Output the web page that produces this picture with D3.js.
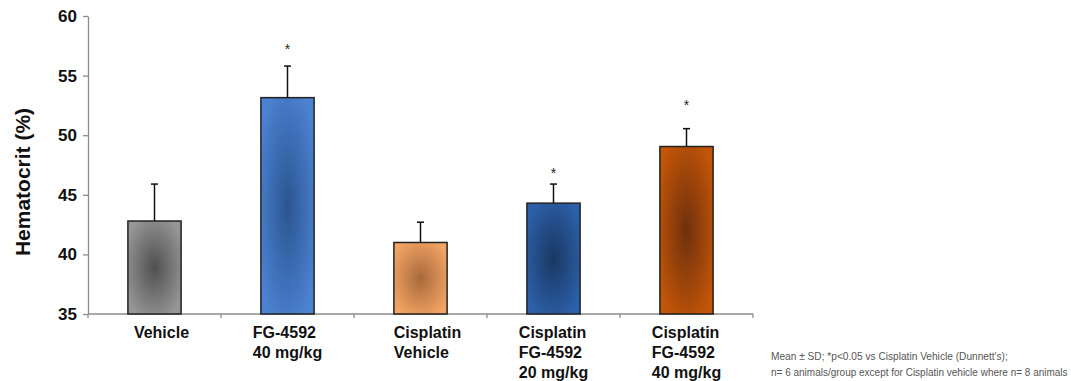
<!DOCTYPE html>
<html lang="en">
  <head>
    <meta charset="utf-8">
    <title>Hematocrit</title>
    <script src="https://cdn.jsdelivr.net/npm/d3@7"></script>
    <style>
      body { margin: 0; background: #fff; }
      svg { display: block; font-family: "Liberation Sans", Arial, sans-serif; }
      .axis path, .axis line { stroke: #8c8c8c; stroke-width: 1.3px; }
      .axis text { font-weight: bold; font-size: 17px; fill: #111; }
      .bar { stroke: #222; stroke-width: 1.5px; }
      .err { stroke: #111; stroke-width: 1.5px; fill: none; }
      .cat { font-weight: bold; font-size: 16px; fill: #111; }
      .note { font-size: 11px; fill: #555; }
    </style>
  </head>
  <body>
    <svg id="chart"></svg>
    <script>
      // data
      var categories = [
        ["Vehicle"],
        ["FG-4592", "40 mg/kg"],
        ["Cisplatin", "Vehicle"],
        ["Cisplatin", "FG-4592", "20 mg/kg"],
        ["Cisplatin", "FG-4592", "40 mg/kg"]
      ];
      var means = [42.8, 53.15, 41.0, 44.3, 49.05];
      var sds   = [3.1, 2.65, 1.7, 1.6, 1.5];
      var stars = [null, 57.5, null, 47.1, 52.8];   // level of the * mark
      var yTicks = [35, 40, 45, 50, 55, 60];

      // edge colour, centre colour of each bar
      var fills = [
        ["#969696", "#505050"],
        ["#4c82d2", "#2a5590"],
        ["#f3a464", "#a86a3c"],
        ["#2c60aa", "#1a3862"],
        ["#c25508", "#6e300c"]
      ];

      var W = 1071, H = 381;
      var margin = {top: 16, left: 88, right: 318, bottom: 67};
      var width = W - margin.left - margin.right,
          height = H - margin.top - margin.bottom;

      var svg = d3.select("#chart").attr("width", W).attr("height", H);

      var defs = svg.append("defs");
      fills.forEach(function(c, i) {
        var g = defs.append("radialGradient")
            .attr("id", "grad" + i)
            .attr("cx", "50%").attr("cy", "50%").attr("r", "60%");
        g.append("stop").attr("offset", "0%").attr("stop-color", c[1]);
        g.append("stop").attr("offset", "100%").attr("stop-color", c[0]);
      });

      var g = svg.append("g")
          .attr("transform", "translate(" + margin.left + "," + margin.top + ")");

      var x = d3.scaleBand()
          .domain(d3.range(categories.length))
          .range([0, width])
          .paddingInner(0.6)
          .paddingOuter(0.3);

      var y = d3.scaleLinear().domain([35, 60]).range([height, 0]);

      // y axis
      g.append("g").attr("class", "axis")
          .call(d3.axisLeft(y).tickValues(yTicks).tickSize(5).tickPadding(6).tickSizeOuter(0));

      // x axis with ticks at band boundaries
      var xa = g.append("g").attr("class", "axis").attr("transform", "translate(0," + height + ")");
      xa.append("line").attr("x1", 0).attr("x2", width).attr("y1", 0).attr("y2", 0);
      xa.selectAll(".tk").data(d3.range(categories.length + 1)).enter().append("line")
          .attr("x1", function(d) { return d * width / categories.length; })
          .attr("x2", function(d) { return d * width / categories.length; })
          .attr("y1", 0).attr("y2", 4);

      // bars
      g.selectAll(".bar").data(means).enter().append("rect")
          .attr("class", "bar")
          .attr("x", function(d, i) { return x(i); })
          .attr("width", x.bandwidth())
          .attr("y", function(d) { return y(d); })
          .attr("height", function(d) { return height - y(d); })
          .attr("fill", function(d, i) { return "url(#grad" + i + ")"; });

      // upper error bars
      var eb = g.selectAll(".eb").data(means).enter().append("g");
      eb.append("line").attr("class", "err")
          .attr("x1", function(d, i) { return x(i) + x.bandwidth() / 2; })
          .attr("x2", function(d, i) { return x(i) + x.bandwidth() / 2; })
          .attr("y1", function(d) { return y(d); })
          .attr("y2", function(d, i) { return y(d + sds[i]); });
      eb.append("line").attr("class", "err")
          .attr("x1", function(d, i) { return x(i) + x.bandwidth() / 2 - 3.5; })
          .attr("x2", function(d, i) { return x(i) + x.bandwidth() / 2 + 3.5; })
          .attr("y1", function(d, i) { return y(d + sds[i]); })
          .attr("y2", function(d, i) { return y(d + sds[i]); });

      // significance stars
      g.selectAll(".star").data(stars).enter()
          .filter(function(d) { return d != null; })
          .append("text")
          .attr("x", function(d, i) { return x(stars.indexOf(d)) + x.bandwidth() / 2; })
          .attr("y", function(d) { return y(d); })
          .attr("text-anchor", "middle")
          .attr("dy", "0.6em")
          .style("font-size", "14px")
          .style("fill", "#222")
          .text("*");

      // category labels: left-aligned block centred on the band
      categories.forEach(function(lines, i) {
        var t = g.append("text").attr("class", "cat");
        lines.forEach(function(s, j) {
          t.append("tspan").attr("x", 0).attr("y", height + 24 + j * 20).text(s);
        });
        var w = t.node().getBBox().width;
        t.attr("transform", "translate(" + (x(i) + x.bandwidth() / 2 - w / 2 + (lines[lines.length - 1] === "Vehicle" ? 7 : 0)) + ",0)");
      });

      // y title
      svg.append("text")
          .attr("transform", "translate(30," + (margin.top + height / 2 + 17) + ") rotate(-90)")
          .attr("text-anchor", "middle")
          .style("font-weight", "bold")
          .style("font-size", "21px")
          .style("fill", "#111")
          .text("Hematocrit (%)");

      // footnote, squeezed horizontally like the narrow font of the original
      var notes = [
        "Mean \u00b1 SD; *p<0.05 vs Cisplatin Vehicle (Dunnett's);",
        "n= 6 animals/group except for Cisplatin vehicle where n= 8 animals"
      ];
      var noteWidths = [237, 297];
      svg.selectAll(".note").data(notes).enter().append("text")
          .attr("class", "note")
          .text(function(d) { return d; })
          .attr("transform", function(d, i) {
            var sx = noteWidths[i] / this.getComputedTextLength();
            return "translate(771," + (360 + i * 16) + ") scale(" + sx + ",1)";
          });
    </script>
  </body>
</html>
